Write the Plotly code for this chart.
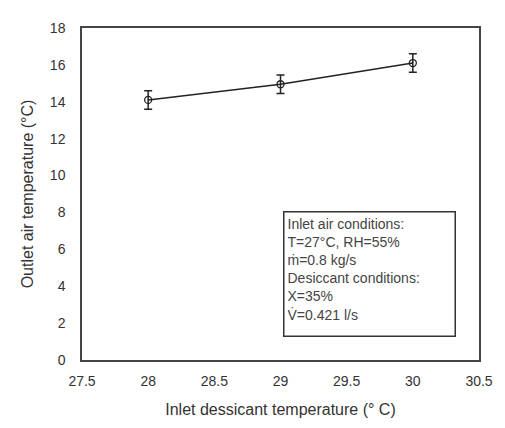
import plotly.graph_objects as go

# inlet desiccant temperature (°C)
inlet_temp = [28, 29, 30]
# outlet air temperature (°C)
outlet_temp = [14.1, 14.95, 16.1]
# error bar half-widths
outlet_err = [0.5, 0.5, 0.5]

x_ticks = [27.5, 28, 28.5, 29, 29.5, 30, 30.5]
y_ticks = [0, 2, 4, 6, 8, 10, 12, 14, 16, 18]

conditions = [
    "Inlet air conditions:",
    "T=27°C, RH=55%",
    "ṁ=0.8 kg/s",
    "Desiccant conditions:",
    "X=35%",
    "V̇=0.421 l/s",
]

font = "Liberation Sans, Arial, sans-serif"

fig = go.Figure()
fig.add_trace(go.Scatter(
    x=inlet_temp,
    y=outlet_temp,
    mode="lines+markers",
    line=dict(color="#222222", width=1.5),
    marker=dict(symbol="circle-open", size=7, color="#222222", line=dict(width=1.3)),
    error_y=dict(type="data", array=outlet_err, visible=True,
                 color="#222222", thickness=1.5, width=4),
    showlegend=False,
))

fig.add_annotation(
    xref="paper", yref="paper",
    x=0.5075, y=0.449,
    xanchor="left", yanchor="top",
    text="<br>".join(conditions),
    showarrow=False,
    align="left", valign="top",
    width=164, height=117,
    bordercolor="#333333", borderwidth=1.5, borderpad=3,
    bgcolor="white",
    font=dict(family=font, size=14, color="#444444"),
)

axis_style = dict(
    showgrid=False, zeroline=False,
    showline=True, linecolor="#444444", linewidth=1.5, mirror=True,
    ticks="", tickfont=dict(family=font, size=14, color="#333333"),
)

fig.update_xaxes(
    range=[27.5, 30.5], tickvals=x_ticks, ticktext=[f"{v:g}" for v in x_ticks],
    ticklabelstandoff=7,
    title=dict(text="Inlet dessicant temperature (° C)", standoff=16,
               font=dict(family=font, size=16, color="#333333")),
    **axis_style,
)
fig.update_yaxes(
    range=[0, 18], tickvals=y_ticks,
    ticklabelstandoff=12,
    title=dict(text="Outlet air temperature (°C)", standoff=12,
               font=dict(family=font, size=16, color="#333333")),
    **axis_style,
)

# page body adds an 8px offset, so the figure is drawn a bit smaller
fig.update_layout(
    width=497, height=420,
    margin=dict(l=74, r=15, t=12, b=64),
    plot_bgcolor="white",
    paper_bgcolor="white",
)

fig.write_html("out.html")
